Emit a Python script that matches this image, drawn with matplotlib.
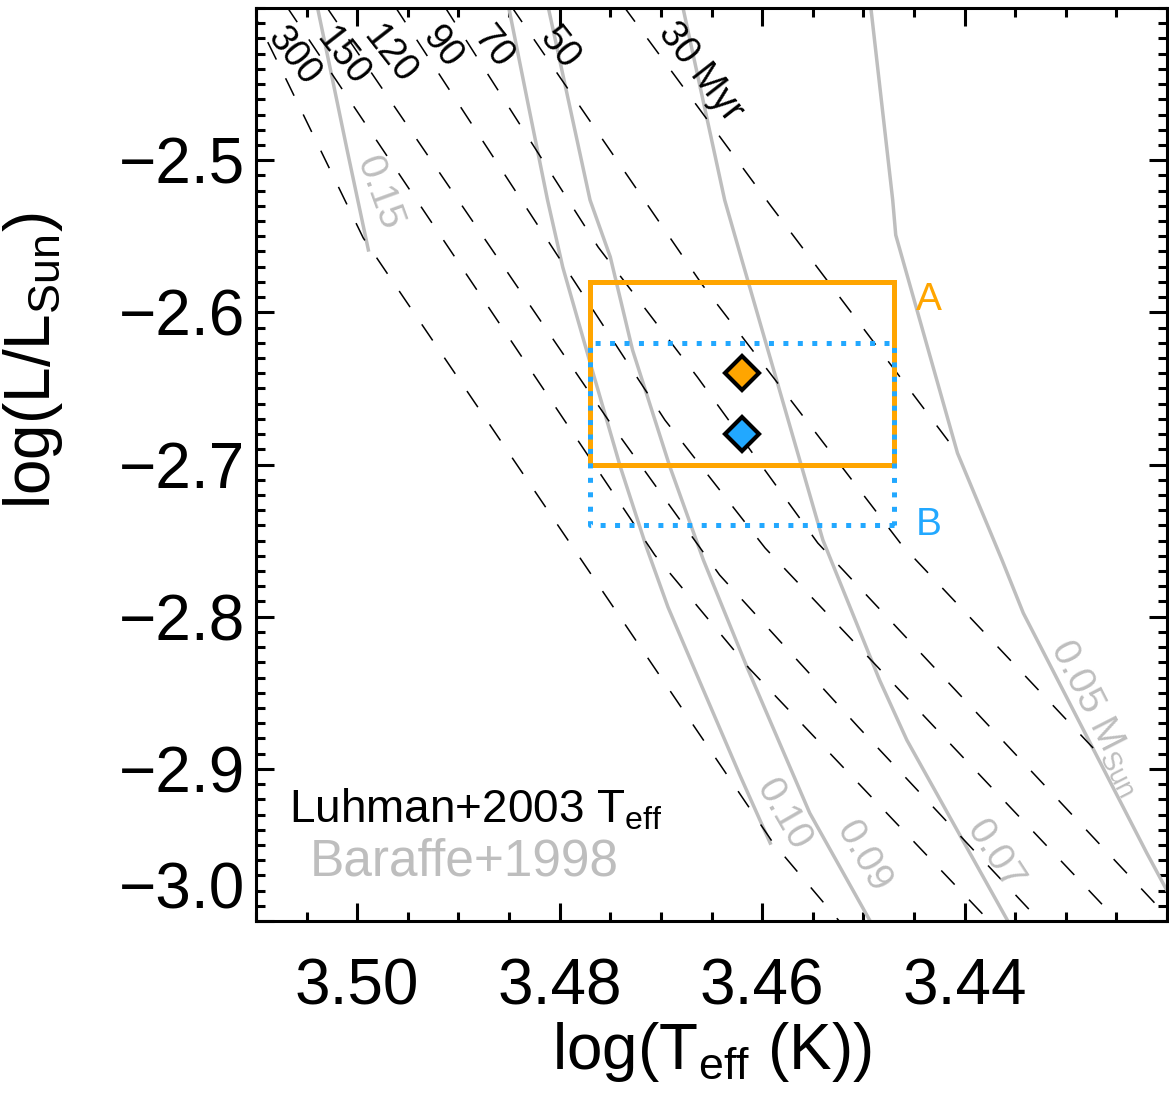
import matplotlib
matplotlib.use("Agg")
import matplotlib.pyplot as plt
from matplotlib.ticker import FixedLocator, MultipleLocator, FuncFormatter

# isochrones (Luhman+2003 Teff scale), log Teff / log L vertices
iso_ages = ["300", "150", "120", "90", "70", "50", "30 Myr"]
iso_x = [
    [3.5106, 3.5069, 3.4994, 3.4589, 3.4518],
    [3.5070, 3.4706, 3.4613, 3.4369],
    [3.5031, 3.4752, 3.4642, 3.4505, 3.4319],
    [3.4963, 3.4696, 3.4597, 3.4242],
    [3.4914, 3.4762, 3.4664, 3.4545, 3.4189],
    [3.4848, 3.4659, 3.4462, 3.4273],
    [3.4737, 3.4592, 3.4407],
]
iso_y = [
    [-2.3987, -2.4486, -2.5512, -2.9488, -3.0046],
    [-2.3987, -2.7595, -2.8338, -3.0046],
    [-2.3987, -2.6708, -2.7726, -2.8725, -3.0046],
    [-2.3987, -2.6708, -2.7549, -3.0046],
    [-2.3987, -2.5571, -2.6425, -2.7516, -3.0046],
    [-2.3987, -2.5820, -2.7529, -2.8863],
    [-2.3987, -2.5295, -2.6925],
]
iso_lab_x = [3.5063, 3.5015, 3.4968, 3.4916, 3.4866, 3.4800, 3.4661]
iso_lab_y = [-2.4322, -2.4322, -2.4309, -2.4256, -2.4256, -2.4263, -2.4421]

# mass tracks (Baraffe+1998)
trk_mass = ["0.15", "0.10", "0.09", "0.07", r"0.05 M$_\mathregular{Sun}$"]
trk_x = [
    [3.5040, 3.5027, 3.5010, 3.4989],
    [3.4851, 3.4832, 3.4812, 3.4797, 3.4767, 3.4740, 3.4714, 3.4693, 3.4661, 3.4622, 3.4592],
    [3.4812, 3.4770, 3.4750, 3.4728, 3.4691, 3.4658, 3.4615, 3.4553, 3.4491],
    [3.4679, 3.4637, 3.4620, 3.4540, 3.4484, 3.4457, 3.4355],
    [3.4493, 3.4471, 3.4468, 3.4407, 3.4363, 3.4342, 3.4220, 3.4187],
]
trk_y = [
    [-2.3974, -2.4388, -2.4933, -2.5590],
    [-2.3974, -2.4605, -2.5262, -2.5702, -2.6399, -2.7017, -2.7549, -2.7937, -2.8436, -2.9041, -2.9488],
    [-2.3974, -2.5262, -2.5636, -2.6248, -2.7017, -2.7628, -2.8331, -2.9290, -3.0027],
    [-2.3974, -2.5262, -2.5656, -2.7496, -2.8416, -2.8811, -3.0027],
    [-2.3974, -2.5262, -2.5492, -2.6925, -2.7628, -2.7976, -2.9553, -2.9961],
]
trk_lab_x = [3.4979, 3.4579, 3.4500, 3.4370, 3.4269]
trk_lab_y = [-2.5216, -2.9304, -2.9580, -2.9566, -2.8660]
trk_lab_rot = [-70, -60, -60, -57, -63]

# object: Teff box and luminosity estimates A / B
teff_lo, teff_hi = 3.447, 3.477
teff_obj = 3.462
lum_A, lum_B = -2.64, -2.68
lum_err = 0.06

orange = "#ffa500"
blue = "#22a8ff"
gray = "#bebebe"

plt.rcParams["font.family"] = ["Liberation Sans", "DejaVu Sans"]
plt.rcParams["mathtext.fontset"] = "custom"
plt.rcParams["mathtext.rm"] = "Liberation Sans"
plt.rcParams["lines.scale_dashes"] = False

fig = plt.figure(figsize=(11.69, 10.94), dpi=100)
ax = fig.add_axes([0.219, 0.1581, 0.7793, 0.8346])

for xs, ys in zip(trk_x, trk_y):
    ax.plot(xs, ys, color=gray, lw=2.5, solid_joinstyle="miter")
for xs, ys in zip(iso_x, iso_y):
    ax.plot(xs, ys, color="k", lw=1.1, ls=(0, (14, 15)))

for lab, x, y in zip(iso_ages, iso_lab_x, iso_lab_y):
    ax.text(x, y, lab, rotation=-52, rotation_mode="anchor", ha="center", va="center",
            fontsize=27, color="k")
for lab, x, y, r in zip(trk_mass, trk_lab_x, trk_lab_y, trk_lab_rot):
    ax.text(x, y, lab, rotation=r, rotation_mode="anchor", ha="center", va="center",
            fontsize=28, color=gray)

# box A (solid orange) and B (dotted blue)
ax.plot([teff_lo, teff_hi, teff_hi, teff_lo, teff_lo],
        [lum_A - lum_err, lum_A - lum_err, lum_A + lum_err, lum_A + lum_err, lum_A - lum_err],
        color=orange, lw=3.6, solid_joinstyle="miter")
ax.plot([teff_lo, teff_hi, teff_hi, teff_lo, teff_lo],
        [lum_B - lum_err, lum_B - lum_err, lum_B + lum_err, lum_B + lum_err, lum_B - lum_err],
        color=blue, lw=3.6, ls=(0, (3.6, 6.8)), dash_capstyle="butt")
ax.plot([teff_obj], [lum_A], marker="D", ms=17, mfc=orange, mec="k", mew=3, ls="none")
ax.plot([teff_obj], [lum_B], marker="D", ms=17, mfc=blue, mec="k", mew=3, ls="none")
ax.text(3.4435, lum_A + 0.048, "A", color=orange, fontsize=28, ha="center", va="center")
ax.text(3.4435, lum_B - 0.060, "B", color=blue, fontsize=28, ha="center", va="center")

ax.text(0.036, 0.108, r"Luhman+2003 T$_\mathregular{eff}$", transform=ax.transAxes,
        fontsize=33, color="k", ha="left", va="baseline")
ax.text(0.059, 0.050, "Baraffe+1998", transform=ax.transAxes,
        fontsize=37, color=gray, ha="left", va="baseline")

ax.set_xlim(3.51, 3.42)
ax.set_ylim(-3.0, -2.4)
ax.xaxis.set_major_locator(FixedLocator([3.50, 3.48, 3.46, 3.44]))
ax.xaxis.set_minor_locator(MultipleLocator(0.005))
ax.yaxis.set_major_locator(FixedLocator([-3.0, -2.9, -2.8, -2.7, -2.6, -2.5]))
ax.yaxis.set_minor_locator(MultipleLocator(0.01))
ax.xaxis.set_major_formatter(FuncFormatter(lambda v, p: "%.2f" % v))
ax.yaxis.set_major_formatter(FuncFormatter(lambda v, p: ("%.1f" % v).replace("-", "\u2212")))
ax.tick_params(which="both", direction="in", top=True, right=True, width=2.2, labelsize=46)
ax.tick_params(which="major", length=13)
ax.tick_params(which="minor", length=6.5)
ax.tick_params(axis="x", pad=26)
ax.tick_params(axis="y", pad=8)
for s in ax.spines.values():
    s.set_linewidth(2.2)

ax.set_xlabel(r"log(T$_\mathregular{eff}$ (K))", fontsize=46, labelpad=2)
ax.set_ylabel(r"log(L/L$_\mathregular{Sun}$)", fontsize=46)
ax.yaxis.set_label_coords(-0.245, 0.614)
ax.yaxis.label.set_va("center")

ax.yaxis.get_major_ticks()[0].label1.set_va("bottom")

fig.savefig("out.png", dpi=100)
